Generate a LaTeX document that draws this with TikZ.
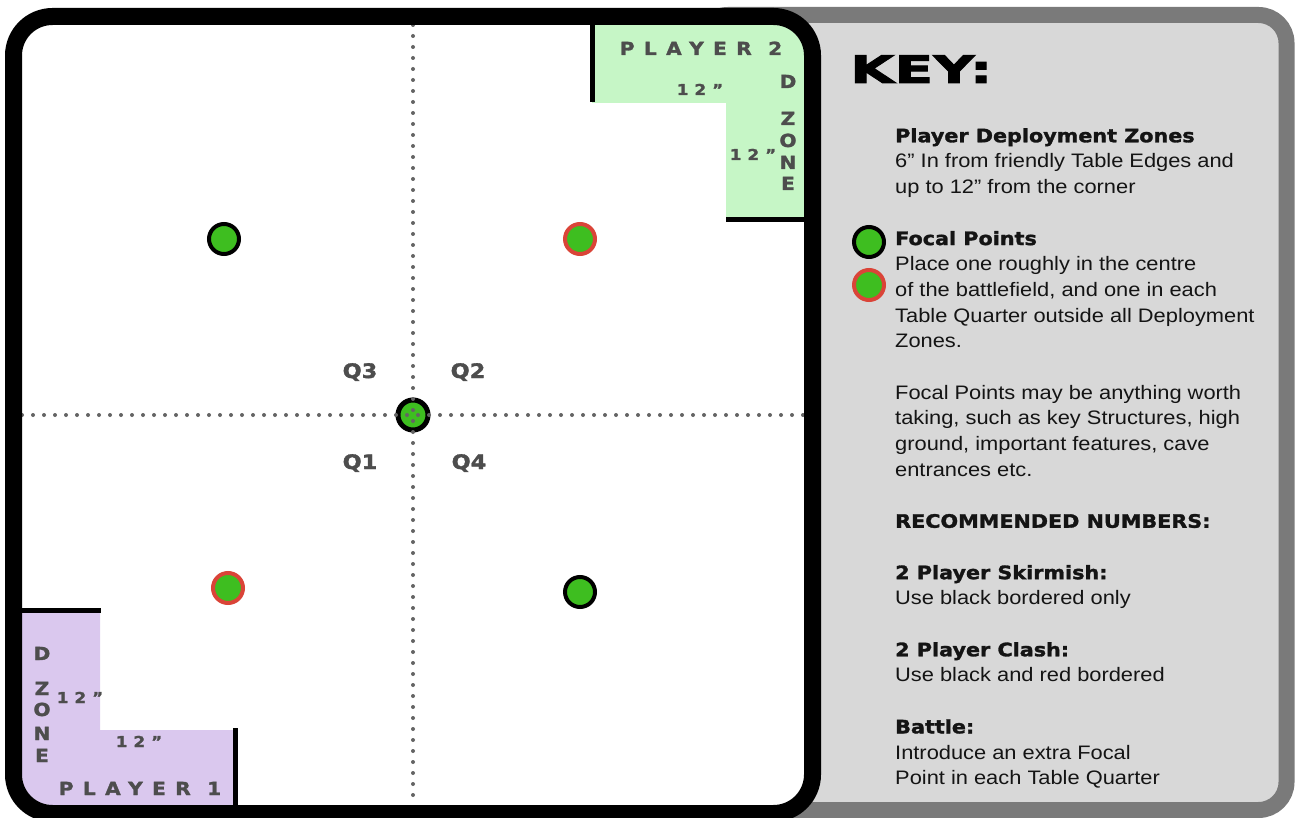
\documentclass[tikz,border=0pt]{standalone}
\usepackage{fontspec}
\setmainfont{Liberation Sans}[FakeStretch=1.12]
\newfontfamily\heavyfont{DejaVu Sans}[FakeStretch=1.12, BoldFeatures={FakeBold=1.6}]
\newfontfamily\keyfont{DejaVu Sans}[FakeStretch=1.5, BoldFeatures={FakeBold=2.5}]
\definecolor{pitgreen}{RGB}{62,190,32}
\definecolor{pitred}{RGB}{218,68,56}
\definecolor{zonegreen}{RGB}{198,246,198}
\definecolor{zonelilac}{RGB}{218,200,238}
\definecolor{labelgrey}{RGB}{77,77,77}
\definecolor{panelgrey}{RGB}{216,216,216}
\definecolor{rimgrey}{RGB}{122,122,122}
\definecolor{dotgrey}{RGB}{100,100,100}
\definecolor{inkblack}{RGB}{20,20,20}
\newcommand{\keyhead}[1]{{\heavyfont\bfseries\fontsize{18.5}{25.7}\selectfont #1}}
\tikzset{
  focal/.style={circle, draw=black, fill=pitgreen, line width=4pt, minimum size=30pt, inner sep=0pt},
  focalred/.style={focal, draw=pitred},
  zonelabel/.style={text=labelgrey, inner sep=0pt, anchor=base,
    font=\heavyfont\bfseries\fontsize{18}{18}\selectfont\addfontfeatures{LetterSpace=52}},
  inchlabel/.style={zonelabel,
    font=\heavyfont\bfseries\fontsize{15}{15}\selectfont\addfontfeatures{LetterSpace=40}},
  quarter/.style={text=labelgrey, inner sep=0pt, anchor=base,
    font=\heavyfont\bfseries\fontsize{20}{20}\selectfont},
  zoneedge/.style={line width=5pt},
  axis/.style={dotgrey, line width=4pt, line cap=round, dash pattern=on 0pt off 11pt},
}
\begin{document}
\begin{tikzpicture}[x=1pt, y=-1pt]
  \useasboundingbox (0,0) rectangle (1300,818);
  % --- key panel behind the board ---
  \draw[rimgrey, fill=panelgrey, line width=16pt, rounded corners=28pt]
    (700,15) rectangle (1286.5,810);
  % --- table ---
  \fill[white, rounded corners=39pt] (13.5,16.5) rectangle (812.5,813.5);
  \begin{scope}
    \clip[rounded corners=30pt] (22,25) rectangle (804,805);
    % player 2 deployment zone (top right)
    \fill[zonegreen] (592,10) -- (820,10) -- (820,220) -- (726,220)
      -- (726,103) -- (592,103) -- cycle;
    \draw[zoneedge] (592,10) -- (592,102);
    \draw[zoneedge] (726,220) -- (820,220);
    % player 1 deployment zone (bottom left)
    \fill[zonelilac] (10,610) -- (100,610) -- (100,730) -- (235,730)
      -- (235,820) -- (10,820) -- cycle;
    \draw[zoneedge] (10,610) -- (101,610);
    \draw[zoneedge] (235,728) -- (235,820);
  \end{scope}
  % --- focal points ---
  \node[focal, line width=5pt] (centre) at (413,415) {};
  \node[focal] (fpq3) at (224,239) {};
  \node[focalred] (fpq2) at (580,239) {};
  \node[focalred] (fpq1) at (228,588) {};
  \node[focal] (fpq4) at (580,592) {};
  % --- quarter lines ---
  \coordinate (north) at (413,25);
  \coordinate (south) at (413,805);
  \coordinate (west) at (22,415);
  \coordinate (east) at (804,415);
  \draw[axis] (north) -- (south);
  \draw[axis] (west) -- (east);
  \node[quarter] (q3) at (360,378) {Q3};
  \node[quarter] (q2) at (468,378) {Q2};
  \node[quarter] (q1) at (360,469) {Q1};
  \node[quarter] (q4) at (469,469) {Q4};
  % --- zone labels ---
  \node[zonelabel] (p2name) at (701,55) {PLAYER 2};
  \node[inchlabel] (p2top) at (700,95) {12”};
  \node[inchlabel] (p2side) at (753,160) {12”};
  \foreach \l/\yy in {D/88, Z/125, O/147, N/169, E/190}
    \node[zonelabel] (p2\l) at (788,\yy) {\l};
  \node[zonelabel] (p1name) at (140,795) {PLAYER 1};
  \node[inchlabel] (p1side) at (80,703) {12”};
  \node[inchlabel] (p1bottom) at (139,747) {12”};
  \foreach \l/\yy in {D/660, Z/695, O/716, N/740, E/762}
    \node[zonelabel] (p1\l) at (42,\yy) {\l};
  % --- table edge on top ---
  \draw[black, line width=17pt, rounded corners=39pt] (13.5,16.5) rectangle (812.5,813.5);
  % --- key ---
  \node[anchor=base west, inner sep=0pt, font=\keyfont\bfseries\fontsize{38}{38}\selectfont]
    (keytitle) at (850,83) {KEY:};
  \node[focal] (keyblack) at (869,242) {};
  \node[focalred] (keyred) at (869,285) {};
  \node[anchor=north west, align=left, inner sep=0pt, text=inkblack,
    font=\fontsize{19.5}{25.7}\selectfont] (keytext) at (895,128) {%
    \keyhead{Player Deployment Zones}\\
    6” In from friendly Table Edges and\\
    up to 12” from the corner\\[25.7pt]
    \keyhead{Focal Points}\\
    Place one roughly in the centre\\
    of the battlefield, and one in each\\
    Table Quarter outside all Deployment\\
    Zones.\\[25.7pt]
    Focal Points may be anything worth\\
    taking, such as key Structures, high\\
    ground, important features, cave\\
    entrances etc.\\[25.7pt]
    \keyhead{RECOMMENDED NUMBERS:}\\[25.7pt]
    \keyhead{2 Player Skirmish:}\\
    Use black bordered only\\[25.7pt]
    \keyhead{2 Player Clash:}\\
    Use black and red bordered\\[25.7pt]
    \keyhead{Battle:}\\
    Introduce an extra Focal\\
    Point in each Table Quarter};
\end{tikzpicture}
\end{document}
